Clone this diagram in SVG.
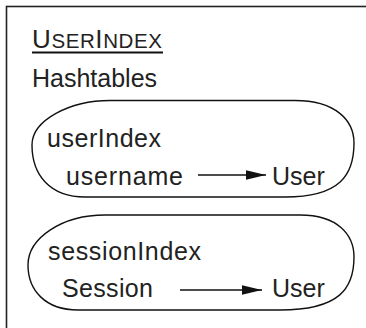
<svg xmlns="http://www.w3.org/2000/svg" width="366" height="328" viewBox="0 0 366 328">
<style>
text{font-family:"Liberation Sans",Arial,sans-serif;font-size:25px;fill:#222}
.shape{fill:none;stroke:#111;stroke-width:1.4}
.edge{stroke:#111;stroke-width:1.3;fill:none}
</style>
<defs>
<marker id="ah" viewBox="0 0 20 10" refX="20" refY="5" markerWidth="20" markerHeight="10" markerUnits="userSpaceOnUse" orient="auto">
<path d="M0,0.3 L20,5 L0,9.7 Z" fill="#111"/>
</marker>
</defs>
<rect fill="#fff" x="0" y="0" width="366" height="328"/>
<g id="frame">
<rect x="6.5" y="6.5" width="420" height="420" fill="none" stroke="#222" stroke-width="1.6"/>
<text x="32" y="47.5" textLength="130" lengthAdjust="spacing"><tspan font-size="26">U</tspan><tspan font-size="20.5">SER</tspan><tspan font-size="26">I</tspan><tspan font-size="20.5">NDEX</tspan></text>
<line x1="32" y1="52.5" x2="163" y2="52.5" stroke="#111" stroke-width="2"/>
<text x="32" y="87">Hashtables</text>
</g>
<g id="userIndex">
<path class="shape" d="M110,100.5 L295,100.5 C335,100.5 354,120 354,143 C354,175 340,197 285,197 L85,197 C50,197 32,175 32,145 C32,120 70,100.5 110,100.5 Z"/>
<text x="47" y="147" textLength="114" lengthAdjust="spacing">userIndex</text>
<text x="66" y="185" textLength="117" lengthAdjust="spacing">username</text>
<text x="272" y="185">User</text>
</g>
<g id="sessionIndex">
<path class="shape" d="M105,215 L300,215 C338,215 354,235 354,257 C354,288 340,310 280,310 L78,310 C45,310 28,290 28,265 C28,238 62,215 105,215 Z"/>
<text x="48" y="260" textLength="153" lengthAdjust="spacing">sessionIndex</text>
<text x="62" y="297" textLength="91" lengthAdjust="spacing">Session</text>
<text x="272" y="297">User</text>
</g>
<g id="connectors">
<line class="edge" x1="198" y1="175" x2="266" y2="175" marker-end="url(#ah)"/>
<line class="edge" x1="180" y1="290" x2="262" y2="290" marker-end="url(#ah)"/>
</g>
</svg>
